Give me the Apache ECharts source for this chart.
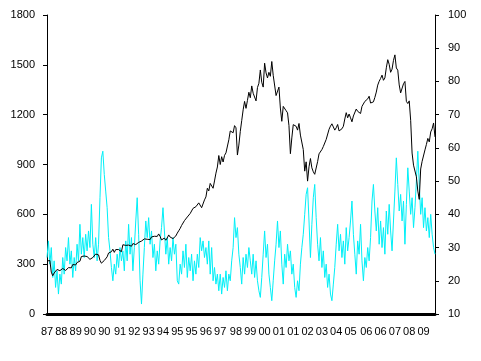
<!DOCTYPE html>
<html>
<head>
<meta charset="utf-8">
<script src="https://cdn.jsdelivr.net/npm/echarts@6/dist/echarts.min.js"></script>
<style>html,body{margin:0;padding:0;background:#fff}#c{width:481px;height:361px}</style>
</head>
<body>
<div id="c"></div>
<script>
// Tick labels shown on the category axis (as printed in the reference)
var tickLabels = ['87','88','89','90','90','91','92','93','94','95','95','96','97','98','99','00','01','01','02','03','04','05','06','06','07','08','09'];
var labelStep = 10.116; // categories between printed labels

// Monthly points, Jul 1987 .. Feb 2010
var startYear = 1987, startMonth = 7;

// Index level (left axis)
var spx = [
 319,330,322,252,230,247,
 257,268,259,261,262,274,272,262,272,279,274,278,
 298,289,295,310,321,318,346,352,349,340,346,353,
 329,332,340,331,361,358,356,323,306,304,322,330,
 344,367,375,375,390,371,388,395,388,393,375,417,
 409,413,404,415,415,408,424,414,418,419,431,436,
 439,443,452,440,450,451,448,464,459,468,462,467,
 482,467,446,451,457,444,458,476,463,472,454,459,
 470,487,501,515,533,545,562,562,584,582,605,616,
 636,640,646,654,669,671,640,652,687,705,757,741,
 786,791,757,801,848,885,954,900,947,915,955,970,
 980,1049,1102,1112,1091,1134,1121,957,1017,1099,1164,1229,
 1280,1238,1286,1335,1302,1373,1329,1320,1283,1363,1389,1469,
 1395,1366,1510,1452,1421,1455,1431,1520,1437,1429,1315,1320,
 1366,1240,1160,1250,1256,1224,1211,1134,965,1060,1140,1148,
 1130,1107,1147,1077,1067,990,860,916,800,886,936,880,
 856,841,848,917,964,975,990,1008,996,1051,1058,1112,
 1131,1145,1126,1107,1121,1141,1102,1104,1115,1130,1174,1212,
 1181,1204,1181,1157,1192,1191,1234,1220,1229,1207,1250,1248,
 1280,1281,1295,1311,1270,1270,1277,1304,1336,1378,1401,1418,
 1438,1407,1421,1482,1531,1503,1455,1474,1527,1560,1481,1468,
 1379,1331,1323,1386,1400,1280,1267,1283,1166,969,896,903,
 826,740,690,873,919,919,988,1021,1057,1036,1096,1115,
 1150,1066
];

// Volatility series (right axis)
var vol = [
 27,32,25,30,21,26,18,23,16,22,19,27,22,30,26,33,25,29,21,27,
 23,31,26,37,28,33,27,34,29,35,30,43,31,27,33,26,31,45,57,59,
 52,47,42,33,29,24,20,25,22,28,24,30,26,29,23,32,26,37,28,33,
 23,30,38,45,34,20,13,22,30,38,33,39,31,35,27,31,23,29,25,32,
 36,42,35,28,33,25,30,26,33,28,31,20,19,25,22,29,24,31,21,27,
 23,28,20,26,22,28,24,33,29,32,27,30,25,32,22,30,20,24,19,22,
 17,22,16,21,18,23,17,22,20,26,30,39,33,36,28,24,19,27,22,28,
 24,30,26,22,28,21,26,20,17,15,21,28,35,27,31,22,18,14,20,26,
 31,38,30,35,25,19,28,24,31,26,29,22,25,18,15,20,17,25,30,34,
 40,46,48,38,27,37,45,49,39,31,26,33,24,29,21,25,18,22,16,14,
 19,24,31,37,29,34,27,32,25,36,29,33,38,44,34,28,22,32,28,37,
 26,20,27,24,30,26,33,44,49,41,35,42,31,38,30,36,28,41,34,43,
 35,29,38,47,57,49,41,46,38,44,31,43,54,47,40,45,36,42,50,59,
 49,40,45,36,42,35,39,33,40,34,30,28
];

var categories = [];
for (var i = 0; i < spx.length; i++) {
  var m = startMonth - 1 + i;
  var y = startYear + Math.floor(m / 12);
  var mm = (m % 12) + 1;
  categories.push(y + '-' + (mm < 10 ? '0' + mm : mm));
}
var labelAt = {};
for (var k = 0; k < tickLabels.length; k++) {
  labelAt[Math.round(k * labelStep)] = tickLabels[k];
}

var font = 'Liberation Sans, Arial, sans-serif';
var plain = function (v) { return String(v); };
var chart = echarts.init(document.getElementById('c'), null, {renderer: 'canvas'});
chart.setOption({
  animation: false,
  backgroundColor: '#ffffff',
  grid: {left: 47, right: 46, top: 15, bottom: 47, containLabel: false},
  xAxis: {
    type: 'category',
    data: categories,
    boundaryGap: false,
    offset: 1,
    axisLine: {show: true, lineStyle: {color: '#000', width: 3}},
    axisTick: {show: false},
    splitLine: {show: false},
    axisLabel: {
      interval: function (idx) { return labelAt.hasOwnProperty(idx); },
      formatter: function (v, idx) { return labelAt.hasOwnProperty(idx) ? labelAt[idx] : ''; },
      color: '#000', fontSize: 11, fontFamily: font, margin: 11
    }
  },
  yAxis: [{
    type: 'value', position: 'left', min: 0, max: 1800, interval: 300,
    axisLine: {show: true, lineStyle: {color: '#000', width: 1}},
    axisTick: {show: true, length: 4, lineStyle: {color: '#000'}},
    splitLine: {show: false},
    axisLabel: {color: '#000', fontSize: 11, fontFamily: font, margin: 12, formatter: plain}
  }, {
    type: 'value', position: 'right', min: 10, max: 100, interval: 10,
    axisLine: {show: true, lineStyle: {color: '#000', width: 1}},
    axisTick: {show: true, length: 4, lineStyle: {color: '#000'}},
    splitLine: {show: false},
    axisLabel: {color: '#000', fontSize: 11, fontFamily: font, margin: 13, formatter: plain}
  }],
  series: [{
    name: 'vol', type: 'line', yAxisIndex: 1, data: vol,
    showSymbol: false, symbol: 'none',
    lineStyle: {color: '#00F0F8', width: 1}, z: 2
  }, {
    name: 'index', type: 'line', yAxisIndex: 0, data: spx,
    showSymbol: false, symbol: 'none',
    lineStyle: {color: '#000', width: 1}, z: 3
  }]
});
</script>
</body>
</html>
